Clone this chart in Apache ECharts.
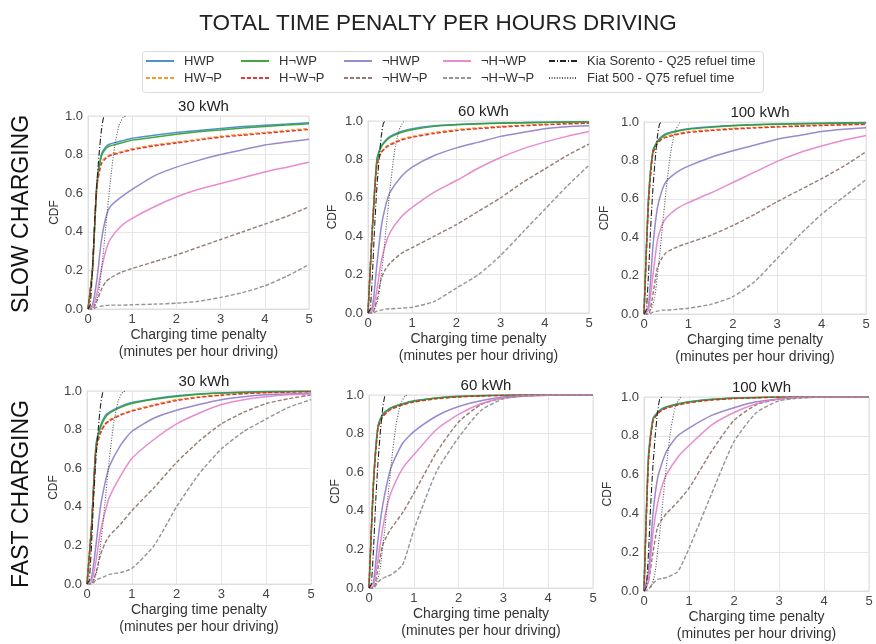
<!DOCTYPE html>
<html>
<head>
<meta charset="utf-8">
<script src="https://cdn.jsdelivr.net/npm/echarts@6/dist/echarts.min.js"></script>
<style>
html,body{margin:0;padding:0;background:#fff;}
#chart{width:876px;height:644px;}
</style>
</head>
<body>
<div id="chart"></div>
<script>
// ---------- DATA ----------
const seriesNames = ['HWP', 'HW¬P', 'H¬WP', 'H¬W¬P', '¬HWP', '¬HW¬P', '¬H¬WP', '¬H¬W¬P'];
const refNames = ['Kia Sorento - Q25 refuel time', 'Fiat 500 - Q75 refuel time'];
const panelTitles = ['30 kWh', '60 kWh', '100 kWh', '30 kWh', '60 kWh', '100 kWh'];
const rowLabels = ['SLOW CHARGING', 'FAST CHARGING'];
const xTicks = [0, 1, 2, 3, 4, 5];
const yTicks = [0, 0.2, 0.4, 0.6, 0.8, 1.0];

// x sample points (minutes per hour driving)
const xs = [0, 0.1, 0.2, 0.3, 0.4, 0.5, 0.75, 1, 1.5, 2, 2.5, 3, 3.5, 4, 4.5, 5];

// reference refuel-time CDFs
const kiaXs  = [0, 0.05, 0.1, 0.15, 0.2, 0.25, 0.3, 0.35, 0.4];
const kiaCdf = [0, 0.02, 0.2, 0.45, 0.65, 0.8, 0.92, 0.99, 1];
const fiatXs  = [0.15, 0.2, 0.25, 0.3, 0.35, 0.4, 0.5, 0.6, 0.7, 0.8, 0.85];
const fiatCdf = [0.02, 0.05, 0.1, 0.2, 0.3, 0.42, 0.65, 0.84, 0.95, 0.995, 1];

// each panel: rows in seriesNames order
const slow30 = [
  [0, 0.2, 0.65, 0.8, 0.84, 0.855, 0.87, 0.885, 0.9, 0.915, 0.925, 0.935, 0.945, 0.952, 0.958, 0.965],
  [0, 0.2, 0.64, 0.76, 0.785, 0.8, 0.815, 0.83, 0.85, 0.865, 0.88, 0.895, 0.905, 0.915, 0.925, 0.935],
  [0, 0.2, 0.64, 0.79, 0.83, 0.845, 0.86, 0.875, 0.89, 0.905, 0.918, 0.928, 0.938, 0.946, 0.953, 0.96],
  [0, 0.2, 0.63, 0.75, 0.78, 0.795, 0.81, 0.825, 0.845, 0.86, 0.875, 0.89, 0.9, 0.91, 0.92, 0.93],
  [0, 0.02, 0.15, 0.35, 0.47, 0.53, 0.58, 0.62, 0.69, 0.735, 0.77, 0.8, 0.825, 0.85, 0.865, 0.88],
  [0, 0, 0.04, 0.1, 0.14, 0.16, 0.19, 0.21, 0.245, 0.28, 0.32, 0.36, 0.4, 0.44, 0.48, 0.53],
  [0, 0.01, 0.08, 0.2, 0.3, 0.36, 0.43, 0.47, 0.53, 0.58, 0.62, 0.65, 0.68, 0.71, 0.735, 0.76],
  [0, 0, 0.01, 0.015, 0.018, 0.02, 0.02, 0.022, 0.025, 0.03, 0.04, 0.06, 0.085, 0.12, 0.17, 0.23]
];
const slow60 = [
  [0, 0.45, 0.8, 0.87, 0.9, 0.92, 0.945, 0.96, 0.975, 0.982, 0.987, 0.99, 0.992, 0.994, 0.995, 0.996],
  [0, 0.45, 0.78, 0.84, 0.865, 0.88, 0.905, 0.92, 0.94, 0.955, 0.965, 0.972, 0.978, 0.983, 0.987, 0.99],
  [0, 0.44, 0.79, 0.865, 0.895, 0.915, 0.94, 0.955, 0.972, 0.98, 0.985, 0.988, 0.99, 0.992, 0.994, 0.995],
  [0, 0.44, 0.77, 0.835, 0.86, 0.875, 0.9, 0.915, 0.935, 0.95, 0.96, 0.968, 0.975, 0.98, 0.985, 0.988],
  [0, 0.03, 0.25, 0.45, 0.56, 0.63, 0.71, 0.76, 0.82, 0.86, 0.89, 0.92, 0.94, 0.96, 0.97, 0.975],
  [0, 0, 0.07, 0.18, 0.23, 0.26, 0.31, 0.34, 0.4, 0.46, 0.53, 0.6, 0.68, 0.75, 0.82, 0.88],
  [0, 0.01, 0.12, 0.27, 0.36, 0.42, 0.5, 0.55, 0.63, 0.69, 0.755, 0.81, 0.855, 0.89, 0.92, 0.945],
  [0, 0, 0.01, 0.015, 0.02, 0.022, 0.025, 0.03, 0.06, 0.13, 0.2, 0.3, 0.42, 0.54, 0.66, 0.77]
];
const slow100 = [
  [0, 0.6, 0.85, 0.9, 0.925, 0.94, 0.955, 0.965, 0.975, 0.982, 0.987, 0.99, 0.992, 0.994, 0.996, 0.997],
  [0, 0.58, 0.84, 0.89, 0.915, 0.925, 0.94, 0.95, 0.96, 0.967, 0.972, 0.977, 0.981, 0.984, 0.987, 0.99],
  [0, 0.59, 0.845, 0.895, 0.92, 0.935, 0.952, 0.962, 0.972, 0.98, 0.985, 0.988, 0.99, 0.992, 0.994, 0.995],
  [0, 0.57, 0.835, 0.885, 0.91, 0.92, 0.935, 0.945, 0.955, 0.963, 0.969, 0.974, 0.978, 0.982, 0.985, 0.988],
  [0, 0.04, 0.35, 0.55, 0.64, 0.69, 0.74, 0.77, 0.815, 0.85, 0.88, 0.91, 0.93, 0.95, 0.962, 0.97],
  [0, 0, 0.1, 0.24, 0.29, 0.32, 0.35, 0.37, 0.41, 0.46, 0.52, 0.585, 0.645, 0.705, 0.77, 0.845],
  [0, 0.02, 0.2, 0.38, 0.46, 0.5, 0.55, 0.58, 0.63, 0.685, 0.74, 0.795, 0.84, 0.875, 0.905, 0.93],
  [0, 0, 0.01, 0.015, 0.02, 0.02, 0.025, 0.03, 0.05, 0.09, 0.17, 0.29, 0.41, 0.52, 0.61, 0.7]
];
const fast30 = [
  [0, 0.3, 0.72, 0.82, 0.87, 0.89, 0.92, 0.94, 0.96, 0.975, 0.985, 0.99, 0.994, 0.997, 0.998, 0.999],
  [0, 0.3, 0.7, 0.79, 0.83, 0.85, 0.88, 0.9, 0.93, 0.955, 0.97, 0.98, 0.987, 0.992, 0.995, 0.997],
  [0, 0.29, 0.71, 0.81, 0.86, 0.885, 0.915, 0.935, 0.957, 0.972, 0.983, 0.989, 0.993, 0.996, 0.998, 0.999],
  [0, 0.29, 0.69, 0.78, 0.825, 0.845, 0.875, 0.895, 0.925, 0.95, 0.967, 0.978, 0.986, 0.991, 0.994, 0.996],
  [0, 0.03, 0.2, 0.4, 0.52, 0.61, 0.72, 0.79, 0.86, 0.9, 0.93, 0.955, 0.97, 0.98, 0.985, 0.99],
  [0, 0, 0.06, 0.15, 0.21, 0.25, 0.31, 0.38, 0.5, 0.63, 0.74, 0.83, 0.89, 0.935, 0.96, 0.98],
  [0, 0.01, 0.12, 0.27, 0.37, 0.45, 0.56, 0.65, 0.75, 0.83, 0.885, 0.93, 0.955, 0.97, 0.98, 0.985],
  [0, 0, 0.02, 0.03, 0.04, 0.05, 0.06, 0.08, 0.2, 0.4, 0.57, 0.7, 0.79, 0.855, 0.915, 0.955]
];
const fast60 = [
  [0, 0.55, 0.84, 0.9, 0.92, 0.935, 0.955, 0.97, 0.985, 0.993, 0.997, 0.999, 1, 1, 1, 1],
  [0, 0.55, 0.83, 0.89, 0.915, 0.93, 0.95, 0.965, 0.982, 0.991, 0.996, 0.998, 1, 1, 1, 1],
  [0, 0.54, 0.835, 0.895, 0.918, 0.933, 0.953, 0.968, 0.984, 0.992, 0.996, 0.999, 1, 1, 1, 1],
  [0, 0.54, 0.825, 0.885, 0.91, 0.927, 0.948, 0.963, 0.98, 0.99, 0.995, 0.998, 1, 1, 1, 1],
  [0, 0.03, 0.25, 0.42, 0.54, 0.63, 0.75, 0.81, 0.89, 0.94, 0.97, 0.99, 0.996, 0.999, 1, 1],
  [0, 0, 0.1, 0.22, 0.27, 0.31, 0.39, 0.49, 0.7, 0.86, 0.95, 0.985, 0.995, 1, 1, 1],
  [0, 0.01, 0.15, 0.3, 0.42, 0.5, 0.62, 0.69, 0.82, 0.9, 0.955, 0.985, 0.995, 0.999, 1, 1],
  [0, 0, 0.03, 0.05, 0.06, 0.07, 0.12, 0.3, 0.6, 0.78, 0.92, 0.98, 0.995, 1, 1, 1]
];
const fast100 = [
  [0, 0.7, 0.89, 0.92, 0.94, 0.95, 0.965, 0.975, 0.988, 0.995, 0.998, 1, 1, 1, 1, 1],
  [0, 0.68, 0.88, 0.915, 0.935, 0.945, 0.96, 0.972, 0.985, 0.993, 0.997, 0.999, 1, 1, 1, 1],
  [0, 0.69, 0.885, 0.918, 0.938, 0.948, 0.963, 0.974, 0.987, 0.994, 0.998, 1, 1, 1, 1, 1],
  [0, 0.67, 0.875, 0.912, 0.932, 0.942, 0.958, 0.97, 0.984, 0.992, 0.996, 0.999, 1, 1, 1, 1],
  [0, 0.1, 0.4, 0.58, 0.66, 0.72, 0.8, 0.84, 0.905, 0.945, 0.975, 0.99, 0.997, 1, 1, 1],
  [0, 0.05, 0.2, 0.33, 0.37, 0.4, 0.46, 0.53, 0.72, 0.88, 0.96, 0.99, 1, 1, 1, 1],
  [0, 0.05, 0.3, 0.45, 0.54, 0.6, 0.69, 0.75, 0.855, 0.92, 0.965, 0.99, 0.997, 1, 1, 1],
  [0, 0.01, 0.04, 0.06, 0.065, 0.07, 0.1, 0.22, 0.5, 0.77, 0.92, 0.98, 0.995, 1, 1, 1]
];
const panelData = [slow30, slow60, slow100, fast30, fast60, fast100];

// ---------- STYLE / LAYOUT ----------
const colors = ['#3d85c6', '#ff8c1a', '#2ca02c', '#d62728', '#8e7cc8', '#8c6d62', '#e67fcb', '#888888'];
const dashed = [false, true, false, true, false, true, false, true];
const grids = [
  {left: 88, top: 116, width: 221, height: 193, cdfGap: 26},
  {left: 368, top: 121, width: 221, height: 192, cdfGap: 29},
  {left: 644, top: 122, width: 222, height: 192, cdfGap: 33},
  {left: 87, top: 391, width: 224, height: 193, cdfGap: 25},
  {left: 369, top: 395, width: 224, height: 193, cdfGap: 26},
  {left: 644, top: 397, width: 225, height: 195, cdfGap: 30}
];

const FONT = 'Liberation Sans, Arial, sans-serif';
const chart = echarts.init(document.getElementById('chart'), null, {renderer: 'canvas'});

const option = {
  backgroundColor: '#ffffff',
  animation: false,
  textStyle: {fontFamily: FONT},
  title: [{
    text: 'TOTAL TIME PENALTY PER HOURS DRIVING',
    left: 'center', top: 7,
    textStyle: {fontSize: 22.5, fontWeight: 'normal', color: '#222', fontFamily: FONT}
  }].concat(grids.map((g, i) => ({
    text: panelTitles[i],
    left: g.left + g.width / 2, top: g.top - 22, textAlign: 'center',
    textStyle: {fontSize: 15, fontWeight: 'normal', color: '#222', fontFamily: FONT}
  }))),
  grid: grids.map(g => ({left: g.left, top: g.top, width: g.width, height: g.height,
    show: true, borderColor: '#dedede', borderWidth: 1, backgroundColor: '#fff'})),
  xAxis: grids.map((g, i) => ({
    type: 'value', gridIndex: i, min: xTicks[0], max: xTicks[xTicks.length - 1], interval: 1,
    name: 'Charging time penalty\n(minutes per hour driving)',
    nameLocation: 'middle', nameGap: 17,
    nameTextStyle: {fontSize: 14, color: '#333', lineHeight: 17, fontFamily: FONT, verticalAlign: 'top'},
    axisLine: {show: true, lineStyle: {color: '#dedede'}},
    axisTick: {show: false},
    axisLabel: {fontSize: 13, color: '#444', margin: 4, fontFamily: FONT},
    splitLine: {show: true, lineStyle: {color: '#e6e6e6', width: 1}}
  })),
  yAxis: grids.map((g, i) => ({
    type: 'value', gridIndex: i, min: yTicks[0], max: yTicks[yTicks.length - 1], interval: 0.2,
    name: 'CDF', nameLocation: 'middle', nameGap: g.cdfGap,
    nameTextStyle: {fontSize: 12, color: '#333', fontFamily: FONT},
    axisLine: {show: true, lineStyle: {color: '#dedede'}},
    axisTick: {show: false},
    axisLabel: {fontSize: 13, color: '#444', margin: 5, fontFamily: FONT,
      formatter: v => v.toFixed(1)},
    splitLine: {show: true, lineStyle: {color: '#e6e6e6', width: 1}}
  })),
  legend: [],
  graphic: [],
  series: []
};

// legend frame
option.graphic.push({
  type: 'rect', left: 142, top: 51, z: 0,
  shape: {width: 621, height: 41, r: 3},
  style: {fill: '#fff', stroke: '#dcdcdc', lineWidth: 1}
});
// row labels
rowLabels.forEach((t, r) => {
  option.graphic.push({
    type: 'text', x: 22, y: r === 0 ? 214 : 494, rotation: Math.PI / 2,
    style: {text: t, fontSize: 23, fill: '#111', fontFamily: FONT, align: 'center', verticalAlign: 'middle'}
  });
});

// legends: 5 columns of 2 rows
const legendCols = [
  [seriesNames[0], seriesNames[1]],
  [seriesNames[2], seriesNames[3]],
  [seriesNames[4], seriesNames[5]],
  [seriesNames[6], seriesNames[7]],
  [refNames[0], refNames[1]]
];
const legendLefts = [145, 240, 343, 442, 548];
legendCols.forEach((col, c) => {
  option.legend.push({
    data: col, orient: 'vertical', left: legendLefts[c], top: 54,
    padding: 0, itemGap: 3, itemWidth: 28, itemHeight: 14,
    itemStyle: {opacity: 0},
    textStyle: {fontSize: 13, color: '#333', fontFamily: FONT, lineHeight: 14, padding: [0, 0, 0, 5]},
    selectedMode: false
  });
});

panelData.forEach((pd, p) => {
  pd.forEach((vals, s) => {
    option.series.push({
      type: 'line', name: seriesNames[s], xAxisIndex: p, yAxisIndex: p,
      data: xs.map((x, k) => [x, vals[k]]),
      symbol: 'none', smooth: 0.2, clip: true,
      color: colors[s],
      lineStyle: {color: colors[s], width: dashed[s] ? 1.4 : 1.5,
        type: dashed[s] ? [4, 2] : 'solid', opacity: 0.9},
      z: 2 + s
    });
  });
  option.series.push({
    type: 'line', name: refNames[0], xAxisIndex: p, yAxisIndex: p,
    data: kiaXs.map((x, k) => [x, kiaCdf[k]]),
    symbol: 'none', smooth: 0.2, clip: true, color: '#222',
    lineStyle: {color: '#222', width: 1.1, type: [6, 2, 1, 2]}, z: 12
  });
  option.series.push({
    type: 'line', name: refNames[1], xAxisIndex: p, yAxisIndex: p,
    data: fiatXs.map((x, k) => [x, fiatCdf[k]]),
    symbol: 'none', smooth: 0.2, clip: true, color: '#555',
    lineStyle: {color: '#555', width: 1.1, type: [1, 1.6]}, z: 12
  });
});

chart.setOption(option);
</script>
</body>
</html>
